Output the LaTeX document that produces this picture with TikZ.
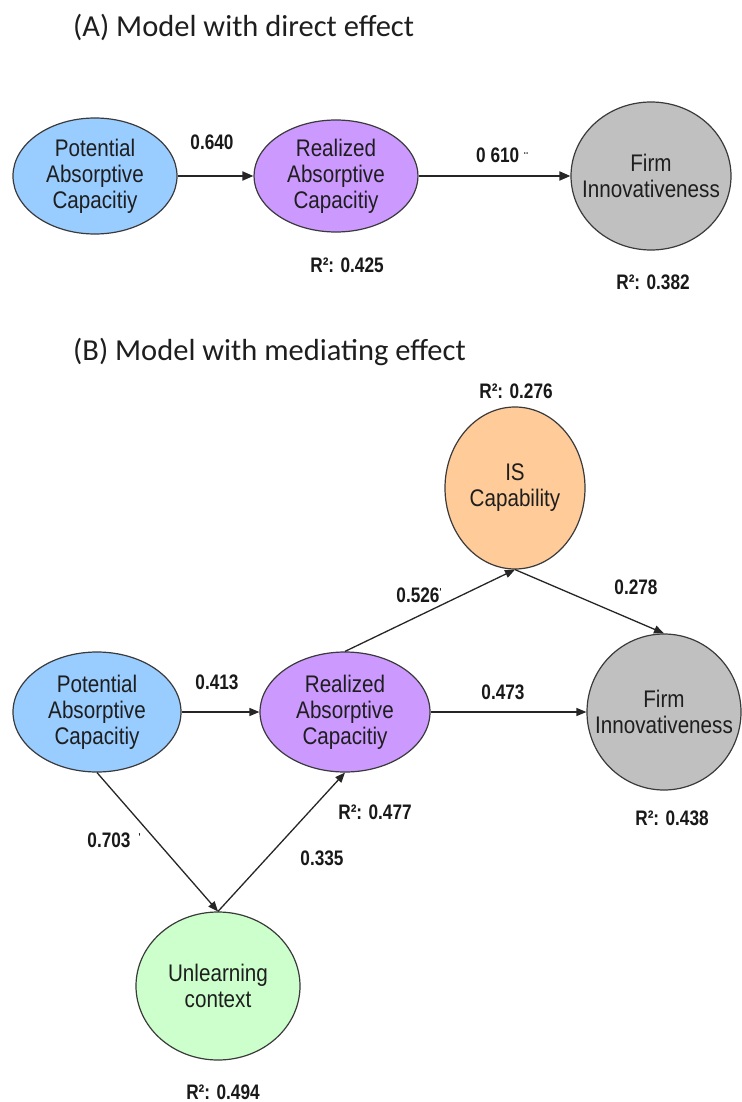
\documentclass[tikz,border=0pt]{standalone}
\usepackage{fontspec}
\setmainfont{Liberation Sans}
\newfontfamily\titlefont{Carlito}
\newfontfamily\nodefont[FakeStretch=0.86]{Liberation Sans}
\newfontfamily\numfont[FakeStretch=0.82]{Liberation Sans}
\usetikzlibrary{shapes.geometric,arrows.meta}
\definecolor{paccol}{HTML}{99CCFF}
\definecolor{raccol}{HTML}{CC99FF}
\definecolor{ficol}{HTML}{C0C0C0}
\definecolor{iscol}{HTML}{FFCC99}
\definecolor{uccol}{HTML}{CCFFCC}
\definecolor{edgecol}{HTML}{3A3A3A}
\definecolor{txtcol}{HTML}{1E1E1E}
\begin{document}
\begin{tikzpicture}[x=1pt,y=-1pt]
	\tikzset{
		every node/.style={inner sep=0pt},
		% latent variable
		latent/.style={ellipse,draw=edgecol,line width=1.2pt,align=center,text=txtcol,
			font=\nodefont\fontsize{24}{26}\selectfont},
		% path coefficient, R^2
		coef/.style={font=\numfont\bfseries\fontsize{21}{23}\selectfont,text=black!90},
		% panel title
		panel/.style={anchor=west,text=txtcol,font=\titlefont\fontsize{30.5}{34}\selectfont},
		% arrows
		linkA/.style={-{Triangle[length=11pt,width=9pt]},line width=1.9pt,draw=black!85},
		linkB/.style={-{Triangle[length=10pt,width=8pt]},line width=1.3pt,draw=black!85},
	}
	\useasboundingbox (0,0) rectangle (741,1102);
	%
	% (A)
	\node[panel] (ttlA) at (73,27) {(A) Model with direct effect};
	\node[latent,fill=paccol,minimum width=164pt,minimum height=116pt] (pacA) at (95,176) {Potential\\Absorptive\\Capacitiy};
	\node[latent,fill=raccol,minimum width=164pt,minimum height=112pt] (racA) at (336,176) {Realized\\Absorptive\\Capacitiy};
	\node[latent,fill=ficol,minimum width=160pt,minimum height=148pt] (fiA) at (651,176) {Firm\\\makebox[0pt]{Innovativeness}};
	%
	\draw[linkA] (pacA) -- (racA);
	\draw[linkA] (racA) -- (fiA);
	%
	\node[coef] (cA1) at (212,142) {0.640};
	\node[coef] (cA2) at (502,155) {0 610 {\fontsize{14}{14}\selectfont ¨}};
	\node[coef] (rA1) at (347,265) {R²: 0.425};
	\node[coef] (rA2) at (653,282) {R²: 0.382};
	%
	% (B)
	\node[panel] (ttlB) at (73,352) {(B) Model with mediating effect};
	\node[latent,fill=paccol,minimum width=168pt,minimum height=120pt] (pacB) at (97,712) {Potential\\Absorptive\\Capacitiy};
	\node[latent,fill=raccol,minimum width=170pt,minimum height=120pt] (racB) at (345,712) {Realized\\Absorptive\\Capacitiy};
	\node[latent,fill=ficol,minimum width=154pt,minimum height=156pt] (fiB) at (664,712) {Firm\\\makebox[0pt]{Innovativeness}};
	\node[latent,fill=iscol,minimum width=140pt,minimum height=162pt] (isB) at (515,488) {IS\\Capability};
	\node[latent,fill=uccol,minimum width=164pt,minimum height=148pt] (ucB) at (218,986) {Unlearning\\context};
	%
	\draw[linkB] (pacB) -- (racB);
	\draw[linkB] (racB) -- (fiB);
	\draw[linkB] (racB.north) -- (isB.south);
	\draw[linkB] (isB.south) -- (fiB.north);
	\draw[linkB] (pacB.south) -- (ucB.north);
	\draw[linkB] (ucB.north) -- (racB.south);
	%
	\node[coef] (rB1) at (516,391) {R²: 0.276};
	\node[coef] (cB1) at (419,595) {0.526{\fontsize{10}{10}\selectfont\raisebox{7pt}{'}}};
	\node[coef] (cB2) at (636,587) {0.278};
	\node[coef] (cB3) at (217,682) {0.413};
	\node[coef] (cB4) at (503,692) {0.473};
	\node[coef] (rB2) at (375,812) {R²: 0.477};
	\node[coef] (rB3) at (672,818) {R²: 0.438};
	\node[coef] (cB5) at (114,840) {0.703\hspace{8pt}{\fontsize{10}{10}\selectfont\raisebox{7pt}{'}}};
	\node[coef] (cB6) at (322,858) {0.335};
	\node[coef] (rB4) at (223,1092) {R²: 0.494};
\end{tikzpicture}
\end{document}
